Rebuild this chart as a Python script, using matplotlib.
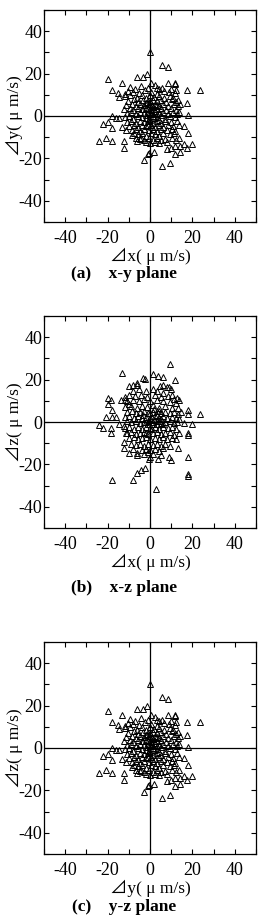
import matplotlib
matplotlib.use("Agg")
import matplotlib.pyplot as plt
from matplotlib.ticker import MultipleLocator
import numpy as np

# Velocity deviations, in um/s
# (a) x-y plane, same scatter is reused in (c) y-z plane
xy_points = [
    # outer points
    (0, 30.2), (5.8, 24.2), (8.5, 23.2), (-19.7, 17.3), (-13.1, 15.7), (-18, 12.1),
    (-15, 11), (-6.3, 18.3), (-3.3, 18.3), (-1.4, 19.6), (0.5, 15.4), (3.1, 13),
    (5.6, 13), (8.7, 15.4), (11.9, 15.8), (11.8, 15), (17.6, 12.1), (23.7, 12.1),
    (17.6, 6.3), (17.8, 0.3), (-18.1, 0.1), (-15.9, -0.8), (-14.4, -0.8), (-22.2, -3.9),
    (-19.9, -3), (-18.1, -5.8), (-24.1, -11.8), (-20.7, -10.5), (-18.1, -11.8),
    (-12.2, -11.8), (-12.2, -14.9), (-13.3, -5), (-11.3, -6.6), (-8.4, -9), (-6.3, -11.8),
    (-4.2, -10.5), (-0.3, -17.3), (-0.8, -18.1), (-2.7, -20.9), (2, -16.8), (5.6, -23.7),
    (9.4, -22), (7.8, -15.7), (9.8, -15), (11.7, -17.8), (14.1, -16.8), (11.7, -14.1),
    (14.1, -14), (16.1, -13.2), (17.6, -15), (20, -13.2), (18.1, -8.2), (16.1, -4.7),
    (13.7, -10.5), (-14.4, 9), (-11.6, 10.2),
    # central cluster
    (-9.3, 13.6), (-7.2, 12.8), (-4.4, 14.2), (-0.8, 13.3), (2.3, 14.4), (4.1, 12.6),
    (9.7, 12.9), (12.3, 12.2),
    (-10.6, 11.7), (-8.1, 11.4), (-5.3, 10.8), (-2.2, 12.1), (0.4, 11.3), (3.2, 10.6),
    (6.4, 11.8), (8.8, 11.1), (11.6, 10.7),
    (-11.8, 9.2), (-9.4, 9.8), (-6.2, 8.7), (-3.7, 9.9), (-1.8, 8.6), (0.2, 9.7),
    (1.7, 8.8), (4.4, 9.3), (6.8, 8.6), (9.3, 9.6), (10.8, 8.4), (13.1, 7.7),
    (-10.2, 7.3), (-7.6, 7.8), (-5.8, 6.6), (-3.3, 7.6), (-1.2, 6.8), (1.3, 7.7),
    (3.4, 6.9), (5.3, 7.6), (7.7, 6.7), (10.2, 7.8), (12.4, 6.8), (14.2, 5.8),
    (-11.3, 5.2), (-8.7, 5.8), (-6.8, 4.7), (-4.8, 5.7), (-2.6, 5.3), (-0.7, 5.8),
    (0.8, 4.7), (2.3, 5.7), (4.2, 4.8), (6.3, 5.6), (8.6, 4.9), (11.2, 5.6), (13.3, 4.6),
    (-12.1, 3.3), (-9.6, 3.8), (-7.8, 2.8), (-5.7, 3.7), (-3.8, 3.2), (-1.7, 3.9),
    (0.3, 2.8), (1.4, 4.2), (3.3, 3.3), (5.2, 3.8), (7.4, 2.7), (9.8, 3.8), (12.3, 2.8),
    (13.8, 1.9),
    (-10.8, 1.3), (-8.8, 1.8), (-6.7, 0.8), (-4.7, 1.8), (-2.8, 1.3), (-0.8, 1.8),
    (0.7, 0.8), (2.2, 2.3), (4.3, 1.3), (6.2, 1.8), (8.3, 0.8), (10.7, 1.8), (12.8, 0.8),
    (-11.7, -0.6), (-9.7, -0.2), (-7.8, -1.2), (-5.8, -0.2), (-3.7, -0.7), (-1.8, 0.3),
    (-0.3, -1.2), (1.3, -0.2), (3.2, -0.7), (5.3, 0.3), (7.2, -1.2), (9.2, -0.2),
    (11.7, -0.7),
    (-10.7, -2.7), (-8.8, -2.2), (-6.7, -3.2), (-4.8, -2.2), (-2.7, -2.7), (-0.8, -2.2),
    (1.3, -3.2), (3.3, -2.2), (5.2, -3.2), (7.3, -2.2), (9.8, -2.7), (12.7, -2.2),
    (-9.8, -4.7), (-7.7, -4.2), (-5.8, -5.2), (-3.7, -4.2), (-1.8, -4.7), (0.3, -4.2),
    (2.2, -5.2), (4.3, -4.2), (6.2, -5.2), (8.3, -4.2), (10.8, -4.7), (13.7, -4.2),
    (-8.7, -6.7), (-6.8, -6.2), (-4.7, -7.2), (-2.8, -6.2), (-0.7, -6.7), (1.2, -6.2),
    (3.3, -7.2), (5.2, -6.2), (8.2, -6.7), (10.3, -6.2), (11.8, -7.2),
    (-7.7, -8.2), (-5.8, -8.7), (-3.7, -8.2), (-1.8, -9.2), (0.3, -8.2), (2.2, -8.7),
    (4.3, -9.2), (6.2, -8.2), (9.2, -8.7), (11.3, -8.2),
    (-6.8, -10.2), (-4.7, -10.7), (-2.8, -11.2), (-0.7, -10.2), (1.2, -11.2), (3.3, -10.2),
    (5.2, -11.2), (7.3, -10.7), (10.2, -10.2), (12.2, -11.2),
    (-1.8, -12.2), (0.2, -12.7), (2.2, -12.2), (4.3, -12.7), (8.2, -12.2),
    (0.1, 1.1), (1.1, 2.1), (-1.1, 3.1), (2.1, -1.1), (-2.1, -1.1), (0.1, -2.1), (3.1, 1.1),
    (-3.1, 3.1), (1.1, 5.1), (-1.1, -4.1), (2.1, 3.1), (4.1, -2.1), (-2.1, 6.1), (0.1, 7.1),
    (3.1, 5.1), (1.1, -5.1),
]

# (b) x-z plane
xz_points = [
    # outer points
    (9.4, 27.2), (-13.1, 23), (1.6, 22.7), (3.6, 21.7), (5.9, 21.1), (-3.1, 20.6),
    (-2.5, 20.2), (11.7, 19.8), (-6.3, 18.6), (-6.3, 17.5), (-8.1, 17.5), (-9.7, 17.2),
    (9, 16.7), (9.8, 15.4), (-19.8, 11.5), (-18.3, 10.4), (-12, 11.7), (-19.8, 8.5),
    (-17.8, 5.7), (-20.6, 2.2), (-17.8, 2.2), (-24.2, -1.6), (-22.2, -2.7), (-18.3, -3),
    (-18.3, -5.4), (17.7, 5.7), (17.7, 3.8), (17.7, -5), (17.7, -6.1), (23.6, 3.6),
    (19.7, -1.1), (18, -16.7), (17.7, -24.6), (17.7, -25.4), (10, -18), (9.1, -16.7),
    (12.2, -8.2), (13, -12.4), (3.6, -17.6), (-0.3, -17.6), (0, -16.4), (-2.3, -21.9),
    (-4.2, -22.7), (-6.3, -23.9), (-8.1, -27.4), (-18.1, -27.4), (2.7, -31.5),
    (-9.7, -14.5), (-6.3, -14.8), (-6.3, -15.6), (-12.3, -12.1), (-12.3, -9.3),
    (-12, 10.4), (-13.6, 10.4), (-9.7, 8.3), (-16, 2.2), (-14.4, -0.9), (-12.5, -1.9),
    (-11.2, -5), (14.5, 4.9), (13.7, 10.4), (12.5, 11.2), (16, -0.3), (13.7, -5.4),
    (5.9, 17.5), (4.5, 17), (8, 16.5),
    # central cluster
    (-8.2, 14.7), (-5.3, 15.8), (-2.1, 14.6), (1.2, 15.7), (3.3, 14.8), (6.2, 13.7),
    (10.3, 12.8),
    (-9.8, 12.7), (-7.2, 12.2), (-4.3, 12.8), (-1.2, 11.7), (2.3, 12.8), (5.2, 11.7),
    (8.3, 12.2), (11.2, 10.8),
    (-10.8, 9.7), (-8.2, 10.2), (-5.3, 9.7), (-2.8, 10.8), (0.2, 9.8), (3.3, 10.2),
    (6.2, 9.7), (9.2, 9.2), (12.3, 8.8),
    (-11.7, 7.2), (-8.8, 7.7), (-6.2, 6.8), (-3.8, 7.7), (-1.2, 7.3), (1.3, 7.8),
    (4.2, 6.8), (7.3, 7.7), (10.2, 6.8), (13.2, 6.7),
    (-10.8, 4.8), (-8.7, 5.3), (-6.8, 4.3), (-4.8, 4.8), (-2.8, 5.3), (-0.8, 4.3),
    (1.2, 4.8), (3.2, 5.3), (5.3, 4.3), (7.2, 4.8), (9.3, 4.3), (11.2, 4.8), (13.3, 3.8),
    (-11.8, 2.3), (-9.8, 2.8), (-7.7, 1.8), (-5.8, 2.8), (-3.8, 1.8), (-1.8, 2.3),
    (0.2, 1.8), (2.3, 2.8), (4.2, 1.8), (6.3, 2.8), (8.2, 1.8), (10.3, 2.3), (12.2, 1.8),
    (13.8, 1.3),
    (-10.7, 0.3), (-8.8, -0.2), (-6.8, 0.3), (-4.8, -0.7), (-2.8, -0.2), (-0.8, 0.3),
    (1.2, -0.2), (3.3, 0.3), (5.2, -0.7), (7.3, -0.2), (9.2, 0.3), (11.3, -0.7),
    (12.8, -0.2),
    (-11.7, -2.7), (-9.8, -2.2), (-7.7, -3.2), (-5.8, -2.2), (-3.8, -3.2), (-1.8, -2.2),
    (0.2, -2.7), (2.2, -2.2), (4.3, -3.2), (6.2, -2.2), (8.3, -2.7), (10.2, -2.2),
    (12.3, -3.2),
    (-10.8, -5.2), (-8.8, -4.7), (-6.7, -5.7), (-4.8, -5.2), (-2.7, -4.7), (-0.8, -5.7),
    (1.2, -5.2), (3.3, -4.7), (5.2, -5.7), (7.3, -5.2), (9.2, -4.7), (11.3, -6.2),
    (-9.8, -7.7), (-7.7, -7.2), (-5.8, -8.2), (-3.8, -7.7), (-1.8, -7.2), (0.2, -8.2),
    (2.3, -7.7), (4.2, -8.2), (6.3, -7.2), (8.2, -8.2), (10.3, -7.7),
    (-8.8, -10.2), (-6.8, -10.7), (-4.7, -10.2), (-2.8, -11.2), (-0.8, -10.2),
    (1.2, -10.7), (3.3, -10.2), (5.2, -11.2), (7.3, -10.2), (9.2, -11.2),
    (-7.8, -12.7), (-3.8, -13.2), (-1.8, -12.7), (0.2, -13.2), (2.2, -12.7), (4.3, -13.7),
    (6.2, -12.2),
    (-2.8, -15.2), (1.2, -15.2), (5.3, -15.7), (-0.8, -14.2),
    (0.1, 1.1), (1.1, -1.1), (2.1, 1.1), (3.1, -1.1), (4.1, 0.6), (5.1, 1.6), (-1.1, -1.1),
    (-2.1, 0.1), (0.1, 4.1), (2.1, 6.1), (-2.1, -5.1), (1.1, -3.1), (3.1, 3.1),
    (-3.1, 3.1), (6.1, -1.1), (4.1, 5.1),
]

yz_points = xy_points

panels = [
    (xy_points, "\u22bfx( \u03bc m/s)", "\u22bfy( \u03bc m/s)", "(a)    x-y plane"),
    (xz_points, "\u22bfx( \u03bc m/s)", "\u22bfz( \u03bc m/s)", "(b)    x-z plane"),
    (yz_points, "\u22bfy( \u03bc m/s)", "\u22bfz( \u03bc m/s)", "(c)    y-z plane"),
]

plt.rcParams["font.family"] = ["Liberation Serif", "Noto Sans CJK JP", "DejaVu Sans"]
plt.rcParams["font.size"] = 13

W, H = 263, 915
fig = plt.figure(figsize=(W / 100, H / 100), dpi=100)

# axes top edges in pixels
tops = [10, 316, 642]
title_y = [274, 588, 907]
size = 212

for (pts, xl, yl, title), top, ty in zip(panels, tops, title_y):
    ax = fig.add_axes([44 / W, 1 - (top + size) / H, size / W, size / H])
    pts = np.array(pts)
    ax.plot(pts[:, 0], pts[:, 1], linestyle="none", marker="^", ms=4.2,
            mfc="none", mec="black", mew=0.7)
    ax.axhline(0, color="black", lw=0.9)
    ax.axvline(0, color="black", lw=0.9)
    ax.set_xlim(-50, 50)
    ax.set_ylim(-50, 50)
    ax.xaxis.set_major_locator(MultipleLocator(20))
    ax.yaxis.set_major_locator(MultipleLocator(20))
    ax.xaxis.set_minor_locator(MultipleLocator(10))
    ax.yaxis.set_minor_locator(MultipleLocator(10))
    ax.tick_params(which="both", direction="in", top=True, right=True,
                   length=3.5, width=0.8)
    ax.tick_params(axis="x", pad=6)
    ax.tick_params(axis="y", pad=1)
    ax.set_xticklabels([f"{int(v)}" for v in ax.get_xticks()])
    ax.set_yticklabels([f"{int(v)}" for v in ax.get_yticks()])
    for s in ax.spines.values():
        s.set_linewidth(0.9)
    ax.set_xlabel(xl, labelpad=0.5, fontsize=12.5)
    ax.set_ylabel(yl, labelpad=-3, fontsize=12.5)
    fig.text(124 / W, 1 - ty / H, title, ha="center", va="center",
             fontweight="bold", fontsize=12.5)

fig.savefig("out.png", dpi=100)
